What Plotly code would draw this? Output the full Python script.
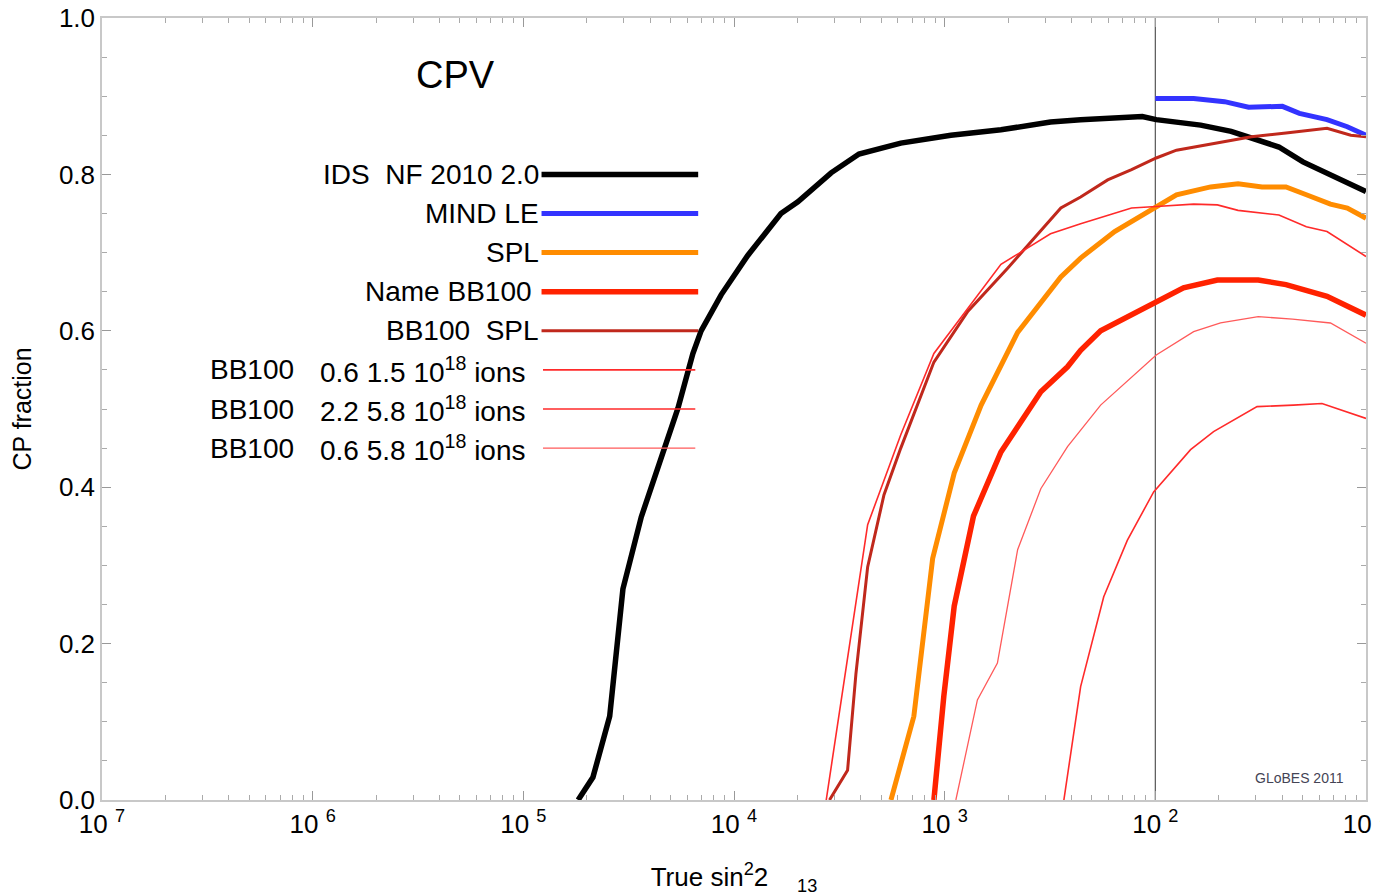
import math
import plotly.graph_objects as go

# ---------------- data ----------------
ids_x = [1.82e-5, 2.14e-5, 2.57e-5, 2.71e-5, 2.97e-5, 3.63e-5, 4.52e-5, 5.42e-5, 6.38e-5, 6.98e-5,
         8.69e-5, 1.16e-4, 1.67e-4, 2.01e-4, 2.89e-4, 3.92e-4, 6.19e-4, 1.07e-3, 1.85e-3, 3.18e-3,
         4.42e-3, 8.67e-3, 1.01e-2, 1.64e-2, 2.29e-2, 3.21e-2, 3.86e-2, 5.02e-2, 6.78e-2, 1.0e-1]
ids_y = [0.0, 0.029, 0.107, 0.171, 0.27, 0.362, 0.437, 0.501, 0.571, 0.60,
         0.646, 0.696, 0.75, 0.765, 0.802, 0.826, 0.84, 0.85, 0.857, 0.867,
         0.870, 0.874, 0.870, 0.863, 0.855, 0.842, 0.835, 0.816, 0.799, 0.778]

mind_x = [1.0e-2, 1.52e-2, 2.13e-2, 2.77e-2, 4.01e-2, 4.83e-2, 6.53e-2, 8.15e-2, 1.0e-1]
mind_y = [0.897, 0.897, 0.893, 0.886, 0.887, 0.878, 0.870, 0.861, 0.850]

spl_x = [5.56e-4, 7.14e-4, 8.77e-4, 1.11e-3, 1.49e-3, 2.22e-3, 3.56e-3, 4.42e-3, 6.41e-3, 1.01e-2,
         1.26e-2, 1.83e-2, 2.47e-2, 3.21e-2, 4.17e-2, 5.21e-2, 6.78e-2, 8.15e-2, 1.0e-1]
spl_y = [0.0, 0.107, 0.309, 0.418, 0.505, 0.598, 0.669, 0.693, 0.727, 0.759,
         0.774, 0.784, 0.788, 0.784, 0.784, 0.774, 0.762, 0.757, 0.744]

bb_x = [8.89e-4, 9.91e-4, 1.11e-3, 1.37e-3, 1.85e-3, 2.86e-3, 3.83e-3, 4.42e-3, 5.50e-3, 1.01e-2,
        1.36e-2, 1.97e-2, 3.08e-2, 4.17e-2, 6.53e-2, 1.0e-1]
bb_y = [0.0, 0.133, 0.248, 0.363, 0.445, 0.522, 0.554, 0.575, 0.600, 0.637,
        0.655, 0.665, 0.665, 0.659, 0.644, 0.620]

bbspl_x = [2.84e-4, 3.46e-4, 3.79e-4, 4.31e-4, 5.15e-4, 6.19e-4, 8.89e-4, 1.29e-3, 1.99e-3, 3.56e-3,
           4.42e-3, 5.94e-3, 7.71e-3, 1.01e-2, 1.26e-2, 1.97e-2, 2.86e-2, 4.17e-2, 6.53e-2, 8.47e-2, 1.0e-1]
bbspl_y = [0.0, 0.038, 0.161, 0.298, 0.39, 0.45, 0.56, 0.625, 0.68, 0.757,
           0.771, 0.793, 0.806, 0.821, 0.831, 0.840, 0.848, 0.853, 0.859, 0.850, 0.848]

bb_22_58_x = [2.74e-4, 3.40e-4, 4.31e-4, 6.19e-4, 8.89e-4, 1.85e-3, 3.18e-3, 4.42e-3, 7.71e-3, 1.01e-2,
              1.52e-2, 1.97e-2, 2.47e-2, 3.86e-2, 5.21e-2, 6.53e-2, 8.47e-2, 1.0e-1]
bb_22_58_y = [0.0, 0.17, 0.352, 0.467, 0.571, 0.685, 0.724, 0.737, 0.757, 0.759,
              0.762, 0.761, 0.754, 0.748, 0.733, 0.727, 0.707, 0.695]

bb_06_58_x = [1.13e-3, 1.43e-3, 1.78e-3, 2.22e-3, 2.86e-3, 3.83e-3, 5.50e-3, 7.46e-3, 1.01e-2, 1.52e-2,
              2.04e-2, 3.08e-2, 4.48e-2, 6.78e-2, 1.0e-1]
bb_06_58_y = [0.0, 0.128, 0.175, 0.32, 0.398, 0.452, 0.505, 0.537, 0.569, 0.599,
              0.61, 0.618, 0.615, 0.61, 0.584]

bb_06_15_x = [3.68e-3, 4.42e-3, 5.69e-3, 7.36e-3, 9.82e-3, 1.47e-2, 1.89e-2, 3.04e-2, 4.52e-2, 6.18e-2, 1.0e-1]
bb_06_15_y = [0.0, 0.145, 0.26, 0.332, 0.394, 0.448, 0.471, 0.503, 0.505, 0.507, 0.488]

x_tickvals = [1e-7, 1e-6, 1e-5, 1e-4, 1e-3, 1e-2, 1e-1]
x_ticktext = ["10 <sup>7</sup>", "10 <sup>6</sup>", "10 <sup>5</sup>", "10 <sup>4</sup>",
              "10 <sup>3</sup>", "10 <sup>2</sup>", "10 <sup>1</sup>"]
y_tickvals = [0.0, 0.2, 0.4, 0.6, 0.8, 1.0]
y_ticktext = ["0.0", "0.2", "0.4", "0.6", "0.8", "1.0"]

legend_names = ["IDS  NF 2010 2.0", "MIND LE", "SPL", "Name BB100 ", "BB100  SPL",
                "0.6 1.5 10<sup>18</sup> ions", "2.2 5.8 10<sup>18</sup> ions", "0.6 5.8 10<sup>18</sup> ions"]
legend_y = [0.80, 0.75, 0.70, 0.65, 0.60, 0.55, 0.50, 0.45]

# ---------------- styles ----------------
FONT = "Liberation Sans, Arial, Helvetica, sans-serif"
series = [
    (ids_x, ids_y, "#000000", 5.5),
    (mind_x, mind_y, "#3333ff", 5),
    (spl_x, spl_y, "#ff8c00", 5),
    (bb_x, bb_y, "#ff2200", 5.5),
    (bbspl_x, bbspl_y, "#c0281c", 3),
    (bb_06_15_x, bb_06_15_y, "#ff2a2a", 1.6),
    (bb_22_58_x, bb_22_58_y, "#ff2a2a", 1.6),
    (bb_06_58_x, bb_06_58_y, "#ff5a5a", 1.3),
]

fig = go.Figure()

# reference vertical line at 1e-2
fig.add_trace(go.Scatter(x=[1e-2, 1e-2], y=[0, 1], mode="lines",
                         line=dict(color="#555555", width=1.2), hoverinfo="skip"))

for xs, ys, col, w in series:
    fig.add_trace(go.Scatter(x=xs, y=ys, mode="lines", line=dict(color=col, width=w)))

L = math.log10
# in-plot legend
leg_x0 = [1.22e-5] * 5 + [1.24e-5] * 3
leg_x1 = [6.76e-5] * 5 + [6.55e-5] * 3
for i, (name, ly) in enumerate(zip(legend_names, legend_y)):
    _, _, col, w = series[i]
    fig.add_trace(go.Scatter(x=[leg_x0[i], leg_x1[i]], y=[ly, ly], mode="lines",
                             line=dict(color=col, width=w), hoverinfo="skip"))
    fig.add_annotation(x=L(leg_x0[i]) if i < 5 else L(1.05e-5), y=ly, text=name, showarrow=False,
                       xref="x", yref="y", xanchor="right", yanchor="middle",
                       xshift=-1 if i < 5 else 0,
                       font=dict(family=FONT, size=28, color="#000000"))
    if i >= 5:
        fig.add_annotation(x=L(3.2e-7), y=ly, text="BB100", showarrow=False,
                           xref="x", yref="y", xanchor="left", yanchor="middle",
                           font=dict(family=FONT, size=28, color="#000000"))

fig.add_annotation(x=L(4.76e-6), y=0.927, text="CPV", showarrow=False, xref="x", yref="y",
                   xanchor="center", yanchor="middle",
                   font=dict(family=FONT, size=38, color="#000000"))
fig.add_annotation(x=L(0.08), y=0.028, text="GLoBES 2011", showarrow=False, xref="x", yref="y",
                   xanchor="right", yanchor="middle",
                   font=dict(family=FONT, size=14, color="#444455"))

axis_common = dict(showline=True, linecolor="#c8c8c8", linewidth=1.5, mirror="allticks",
                   ticks="inside", tickcolor="#999999", ticklen=9, tickwidth=1,
                   showgrid=False, zeroline=False, automargin=False,
                   ticklabeloverflow="allow",
                   tickfont=dict(family=FONT, size=26, color="#000000"))

fig.update_xaxes(type="log", range=[-7, -1], tickvals=x_tickvals, ticktext=x_ticktext,
                 minor=dict(ticks="inside", ticklen=5, tickcolor="#aaaaaa", dtick="D1", showgrid=False),
                 title=dict(text="True sin<sup>2</sup>2\u00a0\u00a0\u00a0\u00a0<sub>13</sub>", standoff=30,
                            font=dict(family=FONT, size=26, color="#000000")),
                 **axis_common)
fig.update_yaxes(range=[0, 1], tickvals=y_tickvals, ticktext=y_ticktext,
                 minor=dict(ticks="inside", ticklen=5, tickcolor="#aaaaaa", dtick=0.05, showgrid=False),
                 title=dict(text="CP fraction", standoff=26,
                            font=dict(family=FONT, size=25, color="#000000")),
                 **axis_common)

fig.update_layout(width=1388, height=893, showlegend=False,
                  paper_bgcolor="white", plot_bgcolor="white",
                  margin=dict(l=94, r=30, t=10, b=101))

fig.write_html("out.html")
